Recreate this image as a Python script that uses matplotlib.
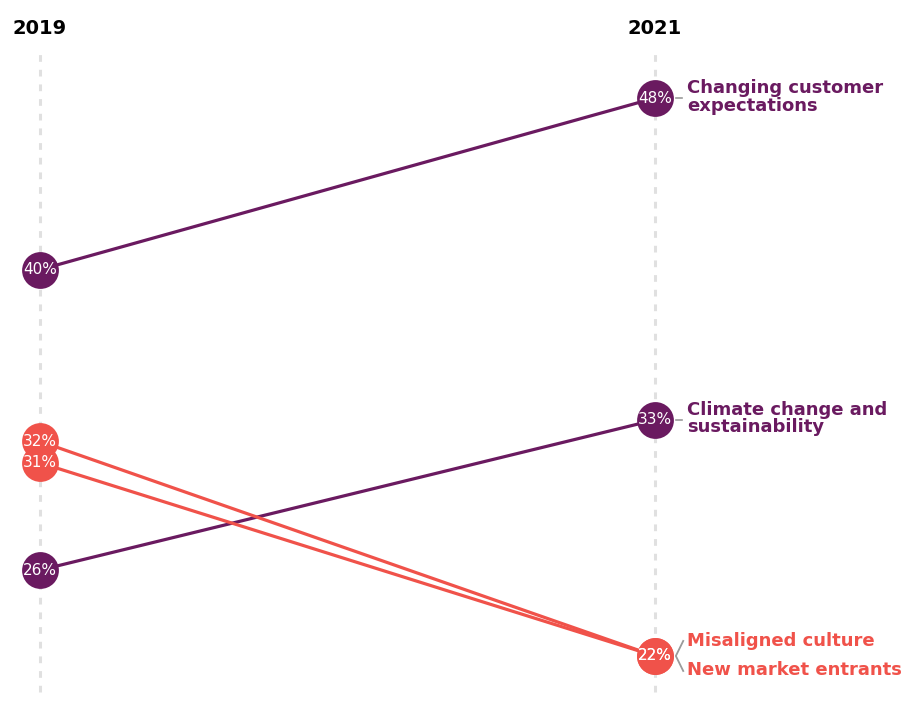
import matplotlib.pyplot as plt

years = [2019, 2021]
series = [
    "Changing customer\nexpectations",
    "Climate change and\nsustainability",
    "Misaligned culture",
    "New market entrants",
]
v2019 = [40, 26, 32, 31]
v2021 = [48, 33, 22, 22]

PURPLE = "#6a1a60"
RED = "#f0524a"
colors = [PURPLE, PURPLE, RED, RED]

fig = plt.figure(figsize=(9.04, 7.11), dpi=100)
ax = fig.add_axes([0, 0, 1, 1])
ax.set_xlim(2018.870, 2021.810)
ax.set_ylim(19.435, 52.567)
ax.axis("off")

# dashed year guides
for yr in years:
    ax.plot([yr, yr], [20.3, 50.4], color="#e0e0e0", lw=2.2,
            ls=(0, (2.2, 2.6)), zorder=0)
    ax.text(yr, 51.25, str(yr), ha="center", va="center",
            fontsize=14, fontweight="bold", color="black")

for a, b, c in zip(v2019, v2021, colors):
    ax.plot(years, [a, b], color=c, lw=2.3, solid_capstyle="round", zorder=1)

for a, b, c in zip(v2019, v2021, colors):
    for yr, v in zip(years, [a, b]):
        ax.plot(yr, v, "o", ms=26.5, color=c, mec="none", zorder=2)
        ax.text(yr, v, f"{v}%", ha="center", va="center", fontsize=11,
                color="white", zorder=3)

# labels on the right
lx = 2021.105
for i in [0, 1]:
    ax.plot([2021.068, 2021.088], [v2021[i], v2021[i]], color="#9a9a9a", lw=1.2)
    ax.text(lx, v2021[i] + 0.05, series[i], ha="left", va="center",
            fontsize=13, fontweight="bold", color=colors[i], linespacing=0.95)

# bracket for the shared 22%
ax.plot([2021.092, 2021.068, 2021.092], [22.7, 22.0, 21.3], color="#9a9a9a", lw=1.3)
ax.text(lx, 22.0 + 0.72, series[2], ha="left", va="center",
        fontsize=13, fontweight="bold", color=RED)
ax.text(lx, 22.0 - 0.66, series[3], ha="left", va="center",
        fontsize=13, fontweight="bold", color=RED)

fig.savefig("out.png", dpi=100)
